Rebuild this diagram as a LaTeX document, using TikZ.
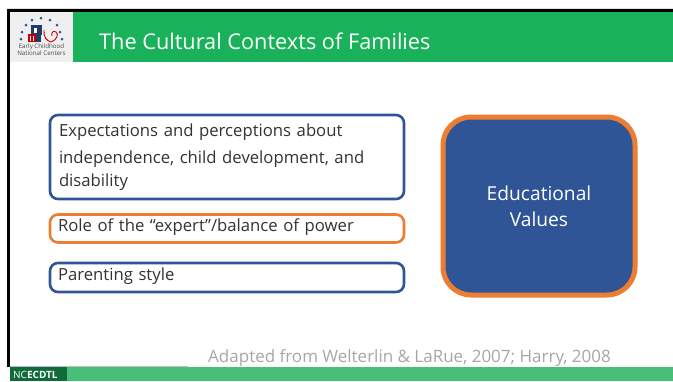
\documentclass[tikz,border=0pt]{standalone}
\usepackage{fontspec}
\setmainfont{Open Sans}
\definecolor{hdrgreen}{HTML}{19B159}
\definecolor{barlight}{HTML}{47BF78}
\definecolor{bardark}{HTML}{0F6B3A}
\definecolor{boxblue}{HTML}{2F5597}
\definecolor{boxorange}{HTML}{ED7D31}
\definecolor{logogray}{HTML}{EFEFEF}
\definecolor{srcgray}{HTML}{A6A6A6}
\tikzset{
  slidebox/.style={draw,line width=2.6pt,rounded corners=8pt,fill=white,minimum width=354pt,
    text width=338pt,align=left,inner xsep=8pt,inner ysep=0pt,text=black!80,font=\fontsize{16.7}{23.5}\selectfont,
    execute at begin node={\vspace{3.5pt}}},
  logodot/.style={circle,fill=boxblue,inner sep=0pt,minimum size=3pt}
}
\begin{document}
\begin{tikzpicture}[x=1pt,y=-1pt]
      \useasboundingbox (0,0) rectangle (673,381);

      % frame and bars
      \fill[black!12] (7,8) rectangle (673,9);
      \fill[black] (7,9) rectangle (673,12);
      \fill[black] (7,9) rectangle (10,367);
      \fill[logogray] (10,12) rectangle (73,62);
      \fill[hdrgreen] (73,12) rectangle (673,62);
      \fill[black!25] (10,365.5) rectangle (188,366.5);
      \fill[barlight] (10,367) rectangle (673,381);
      \fill[bardark] (10,367) rectangle (67,381);

      % logo
      \begin{scope}[every node/.style={logodot}]
        \node (d1) at (22,32) {};
        \node (d2) at (26,25) {};
        \node (d3) at (32,20) {};
        \node (d4) at (41,18) {};
        \node (d5) at (50,20) {};
        \node (d6) at (57,25) {};
        \node (d7) at (60,32) {};
        \node (d8) at (62,39) {};
        \node (d9) at (21,39) {};
      \end{scope}
      \fill[boxblue!70!black] (31,25) rectangle (42,35);
      \fill[white] (34,28) rectangle (37,33);
      \fill[red!75!black] (28,34) rectangle (36,42);
      \fill[white] (30,36) rectangle (31,41);
      \fill[white] (33,36) rectangle (34,41);
      \fill[boxblue!70!black] (36,35) rectangle (41,42);
      \draw[red!80!black,line width=.9pt] (44,30) .. controls (43,37) and (47,41) .. (51,42)
        .. controls (57,40) and (59,34) .. (56,32) .. controls (53,30) and (51,33) .. (52,36);
      \node[font=\fontsize{6.2}{6.7}\selectfont,align=center,inner sep=0pt,text=black!70] (logotext) at (41.5,49.5)
        {Early Childhood\\National Centers};

      \node[anchor=west,inner sep=0pt,text=white,font=\fontsize{21.7}{26}\selectfont] (title) at (99,41) {The Cultural Contexts of Families};
      \node[anchor=west,inner sep=0pt,text=white,font=\fontsize{10}{12}\bfseries\selectfont] (tag) at (13,375) {\textmd{NC}ECDTL};

      % left boxes
      \node[slidebox,draw=boxblue,minimum height=84pt,inner xsep=9pt,text width=336pt] (expect) at (227,157)
        {Expectations and perceptions about\\independence, child development, and\\disability};
      \node[slidebox,draw=boxorange,minimum height=28pt] (role) at (227,228.5)
        {Role of the “expert”/balance of power};
      \node[slidebox,draw=boxblue,minimum height=29pt] (style) at (227,277.5)
        {Parenting style};

      % right box
      \node[draw=boxorange,fill=boxblue,line width=5pt,rounded corners=28pt,minimum width=192pt,minimum height=178pt,
        align=center,text=white,font=\fontsize{19.2}{26}\selectfont,inner sep=0pt] (values) at (539,206)
        {Educational\\Values};

      \node[anchor=west,inner sep=0pt,text=srcgray,font=\fontsize{17}{20}\selectfont] (source) at (208,358)
        {Adapted from Welterlin \& LaRue, 2007; Harry, 2008};

\end{tikzpicture}
\end{document}
